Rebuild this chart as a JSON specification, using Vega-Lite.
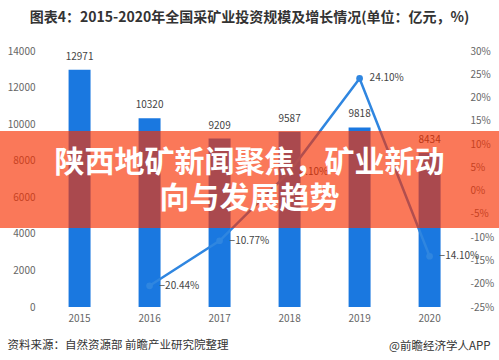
{
  "$schema": "https://vega.github.io/schema/vega-lite/v6.json",
  "width": 499,
  "height": 256,
  "autosize": {"type": "none"},
  "padding": {"top": 51, "bottom": 53, "left": 0, "right": 0},
  "background": "white",
  "config": {
    "view": {"stroke": null},
    "font": "Noto Sans CJK SC",
    "axis": {"grid": false, "ticks": false, "domain": false, "labelFont": "Noto Sans CJK SC", "titleFont": "Noto Sans CJK SC"},
    "axisX": {
      "labelAngle": 0,
      "labelFontSize": 10,
      "labelColor": "#666666",
      "labelPadding": 6,
      "titleAnchor": "start",
      "titleAlign": "left",
      "titleBaseline": "middle",
      "titleX": 7,
      "titleY": 38,
      "titleFontSize": 11.5,
      "titleFontWeight": "normal",
      "titleColor": "#333333"
    }
  },
  "title": {
    "text": "图表4：2015-2020年全国采矿业投资规模及增长情况(单位：亿元，%)",
    "fontSize": 14,
    "fontWeight": "bold",
    "color": "#333333",
    "anchor": "middle",
    "frame": "group",
    "offset": 21,
    "font": "Noto Sans CJK SC"
  },
  "data": {
    "values": [
      {"year": "2015", "inv": 12971, "growth": null},
      {"year": "2016", "inv": 10320, "growth": -20.44},
      {"year": "2017", "inv": 9209, "growth": -10.77},
      {"year": "2018", "inv": 9587, "growth": 4.10},
      {"year": "2019", "inv": 9818, "growth": 24.10},
      {"year": "2020", "inv": 8434, "growth": -14.10}
    ]
  },
  "layer": [
    {
      "encoding": {
        "x": {
          "field": "year",
          "type": "nominal",
          "sort": null,
          "scale": {"paddingInner": 0.686, "paddingOuter": 0.907, "align": 0.54},
          "title": "资料来源：自然资源部 前瞻产业研究院整理"
        },
        "y": {
          "field": "inv",
          "type": "quantitative",
          "scale": {"domain": [0, 14000], "nice": false},
          "axis": {
            "orient": "left",
            "offset": -40,
            "labelPadding": 5,
            "labelFontSize": 10,
            "labelColor": "#666666",
            "format": "d",
            "values": [0, 2000, 4000, 6000, 8000, 10000, 12000, 14000],
            "title": null
          }
        }
      },
      "layer": [
        {"mark": {"type": "bar", "color": "#1a78e0"}},
        {
          "mark": {"type": "text", "dy": -8, "fontSize": 10, "color": "#444444", "baseline": "bottom"},
          "encoding": {"text": {"field": "inv", "type": "quantitative", "format": "d"}}
        },
        {
          "data": {"values": [{"k": 1}]},
          "mark": {"type": "rule", "color": "#dddddd", "strokeWidth": 1},
          "encoding": {
            "x": {"datum": "2015", "bandPosition": -1.07},
            "x2": {"datum": "2020", "bandPosition": 1.7},
            "y": {"datum": 0}
          }
        }
      ]
    },
    {
      "transform": [
        {"filter": "datum.growth != null"},
        {"calculate": "format(datum.growth, '.2f') + '%'", "as": "glabel"}
      ],
      "encoding": {
        "x": {
          "field": "year",
          "type": "nominal",
          "sort": null,
          "scale": {"paddingInner": 0.686, "paddingOuter": 0.907, "align": 0.54},
          "title": "资料来源：自然资源部 前瞻产业研究院整理"
        },
        "y": {
          "field": "growth",
          "type": "quantitative",
          "scale": {"domain": [-25, 30], "nice": false},
          "axis": {
            "orient": "right",
            "offset": -34,
            "labelPadding": 5,
            "labelFontSize": 10,
            "labelColor": "#666666",
            "values": [-25, -20, -15, -10, -5, 0, 5, 10, 15, 20, 25, 30],
            "labelExpr": "datum.value + '%'",
            "title": "@前瞻经济学人APP",
            "titleAngle": 0,
            "titleAlign": "right",
            "titleBaseline": "middle",
            "titleX": 25,
            "titleY": 295,
            "titleFontSize": 11.5,
            "titleFontWeight": "normal",
            "titleColor": "#333333"
          }
        }
      },
      "layer": [
        {"mark": {"type": "line", "color": "#2f86e0", "strokeWidth": 2.5}},
        {"mark": {"type": "point", "filled": true, "opacity": 1, "size": 45, "color": "#2f86e0"}},
        {
          "mark": {"type": "text", "align": "left", "baseline": "middle", "dx": 10, "fontSize": 10, "color": "#444444"},
          "encoding": {"text": {"field": "glabel", "type": "nominal"}}
        }
      ]
    },
    {
      "data": {"values": [{"k": 1}]},
      "mark": {"type": "rect", "color": "#f83000", "opacity": 0.65},
      "encoding": {
        "y": {"datum": 9624, "type": "quantitative", "scale": {"domain": [0, 14000], "nice": false}, "axis": null},
        "y2": {"datum": 4320}
      }
    },
    {
      "data": {"values": [{"k": 1}]},
      "mark": {
        "type": "text",
        "fontSize": 30,
        "fontWeight": "bold",
        "color": "white",
        "lineHeight": 36,
        "align": "center",
        "baseline": "middle",
        "font": "Noto Sans CJK SC"
      },
      "encoding": {
        "y": {"datum": 7875, "type": "quantitative", "scale": {"domain": [0, 14000], "nice": false}, "axis": null},
        "text": {"value": ["陕西地矿新闻聚焦，矿业新动", "向与发展趋势"]}
      }
    }
  ],
  "resolve": {"scale": {"y": "independent"}}
}
